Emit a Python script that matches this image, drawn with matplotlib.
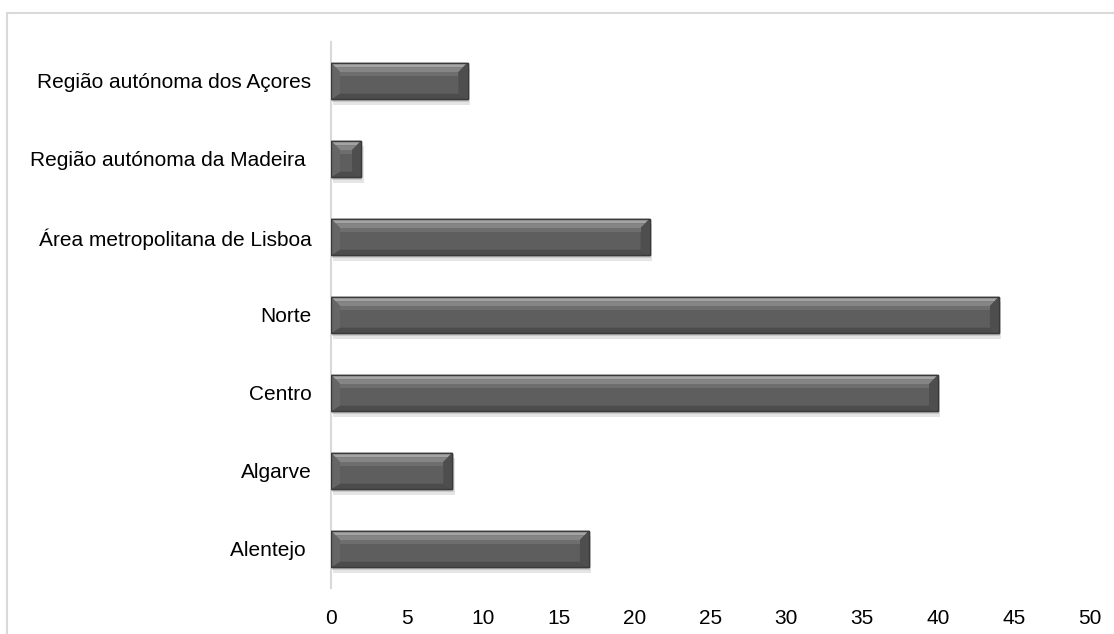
import matplotlib.pyplot as plt
from matplotlib.patches import Polygon, Rectangle

plt.rcParams['font.family'] = ['Liberation Sans', 'DejaVu Sans']

# regiões (de baixo para cima) e número de casos
regioes = ['Alentejo ', 'Algarve', 'Centro', 'Norte',
           'Área metropolitana de Lisboa', 'Região autónoma da Madeira ',
           'Região autónoma dos Açores']
valores = [17, 8, 40, 44, 21, 2, 9]
ticks_x = [0, 5, 10, 15, 20, 25, 30, 35, 40, 45, 50]

H = 0.47      # altura da barra
BX = 0.6      # largura do chanfro horizontal (unidades do eixo x)
BY = 0.12     # altura do chanfro vertical


def barra_chanfrada(ax, y, v):
    x0, x1 = 0, v
    y0, y1 = y - H / 2, y + H / 2
    bx = min(BX, v / 2)
    # sombra
    ax.add_patch(Rectangle((x0 + 0.15, y0 - 0.07), v, H, facecolor='#000000',
                           alpha=0.10, lw=0, zorder=2))
    ax.add_patch(Rectangle((x0 + 0.08, y0 - 0.035), v, H, facecolor='#000000',
                           alpha=0.12, lw=0, zorder=2))
    # corpo
    ax.add_patch(Rectangle((x0, y0), v, H, facecolor='#5e5e5e',
                           edgecolor='#3c3c3c', lw=1.0, zorder=3))
    # faces do chanfro (topo em duas faixas para simular o degradê)
    ym = y1 - BY / 2
    topo1 = [(x0, y1), (x1, y1), (x1 - bx / 2, ym), (x0 + bx / 2, ym)]
    topo2 = [(x0 + bx / 2, ym), (x1 - bx / 2, ym),
             (x1 - bx, y1 - BY), (x0 + bx, y1 - BY)]
    base = [(x0, y0), (x1, y0), (x1 - bx, y0 + BY * 0.6), (x0 + bx, y0 + BY * 0.6)]
    esq = [(x0, y0), (x0, y1), (x0 + bx, y1 - BY), (x0 + bx, y0 + BY * 0.6)]
    dir_ = [(x1, y0), (x1, y1), (x1 - bx, y1 - BY), (x1 - bx, y0 + BY * 0.6)]
    for pts, cor in [(topo1, '#a4a4a4'), (topo2, '#858585'), (base, '#4c4c4c'),
                     (esq, '#666666'), (dir_, '#4e4e4e')]:
        ax.add_patch(Polygon(pts, closed=True, facecolor=cor, lw=0, zorder=4))
    # reflexo suave abaixo do topo
    ax.add_patch(Rectangle((x0 + bx, y1 - BY - 0.05), v - 2 * bx, 0.05,
                           facecolor='#6e6e6e', lw=0, zorder=4))
    ax.add_patch(Rectangle((x0, y0), v, H, facecolor='none',
                           edgecolor='#3a3a3a', lw=1.0, zorder=5))


fig = plt.figure(figsize=(11.14, 6.34), dpi=100)
ax = fig.add_axes([0.297, 0.0726, 0.6815, 0.8612])

for i, v in enumerate(valores):
    barra_chanfrada(ax, i, v)

ax.set_xlim(0, 50)
ax.set_ylim(-0.5, len(regioes) - 0.5)
ax.set_xticks(ticks_x)
ax.set_yticks(range(len(regioes)))
ax.set_yticklabels(regioes)
ax.tick_params(axis='x', length=0, pad=15.5, labelsize=15, colors='#000000')
ax.tick_params(axis='y', length=0, pad=14, labelsize=15, colors='#000000')

for lado in ['top', 'right', 'bottom']:
    ax.spines[lado].set_visible(False)
ax.spines['left'].set_color('#d9d9d9')
ax.spines['left'].set_linewidth(1.5)

# moldura da área do gráfico
fig.patches.append(Rectangle((7 / 1114, -0.1), 1.2, 1 - 13 / 634 + 0.1,
                             transform=fig.transFigure, facecolor='none',
                             edgecolor='#d9d9d9', lw=1.5, zorder=0))

fig.savefig('out.png', dpi=100)
